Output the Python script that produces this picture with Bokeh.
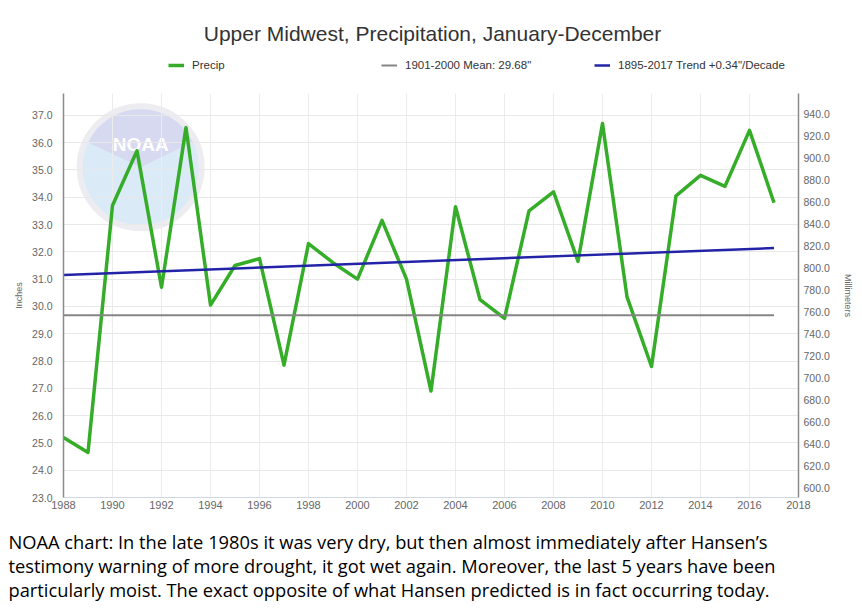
from bokeh.plotting import figure
from bokeh.layouts import column
from bokeh.models import Range1d, LinearAxis, Legend, LegendItem, Label, FixedTicker, NumeralTickFormatter
from bokeh.embed import file_html
from bokeh.resources import INLINE
from bokeh.core.properties import value

# ---------------- data ----------------
years = list(range(1988, 2018))
precip = [25.2, 24.65, 33.7, 35.7, 30.7, 36.55, 30.05, 31.5, 31.75, 27.85,
          32.3, 31.6, 31.0, 33.15, 31.0, 26.9, 33.65, 30.25, 29.56, 33.5,
          34.2, 31.65, 36.7, 30.35, 27.8, 34.05, 34.8, 34.4, 36.45, 33.8]
mean_years = [1988, 2017]
mean_values = [29.68, 29.68]
trend_years = [1988, 2017]
trend_values = [31.15, 32.14]

x_ticks = list(range(1988, 2019, 2))
inch_ticks = list(range(23, 38))
mm_ticks = list(range(600, 941, 20))

title_text = "Upper Midwest, Precipitation, January-December"
legend_labels = ["Precip", "1901-2000 Mean: 29.68\"", "1895-2017 Trend +0.34\"/Decade"]
caption_lines = [
    "NOAA chart: In the late 1980s it was very dry, but then almost immediately after Hansen\u2019s",
    "testimony warning of more drought, it got wet again. Moreover, the last 5 years have been",
    "particularly moist. The exact opposite of what Hansen predicted is in fact occurring today.",
]

LOGO_YEAR, LOGO_INCHES = 1991.15, 35.1

FONT = "Liberation Sans"
W = 862
TOP_H, MAIN_H, CAP_H = 93, 425, 93
PREC_STYLE = dict(line_color="#35ad29", line_width=3.5)
MEAN_STYLE = dict(line_color="#858585", line_width=2)
TREND_STYLE = dict(line_color="#2323a8", line_width=2.5)
NAN = float("nan")


def bare_figure(height):
    f = figure(width=W, height=height, x_range=Range1d(0, W), y_range=Range1d(0, height),
               output_backend="svg", toolbar_location=None, x_axis_type=None, y_axis_type=None,
               min_border=0, min_border_left=0, min_border_right=0,
               min_border_top=0, min_border_bottom=0, frame_align=False)
    f.outline_line_color = None
    f.grid.visible = False
    f.background_fill_color = "white"
    f.border_fill_color = "white"
    return f


# ---------------- header: title + legend ----------------
top = bare_figure(TOP_H)
top.add_layout(Label(x=432, y=TOP_H - 33, x_units="screen", y_units="screen", text=title_text,
                     text_align="center", text_baseline="middle", text_font=FONT,
                     text_font_size="21px", text_color="#333333"))
lg_prec = top.line(x=[NAN, NAN], y=[NAN, NAN], **PREC_STYLE)
lg_mean = top.line(x=[NAN, NAN], y=[NAN, NAN], **MEAN_STYLE)
lg_trend = top.line(x=[NAN, NAN], y=[NAN, NAN], **TREND_STYLE)
legend = Legend(items=[LegendItem(label=legend_labels[0], renderers=[lg_prec]),
                       LegendItem(label=legend_labels[1], renderers=[lg_mean]),
                       LegendItem(label=legend_labels[2], renderers=[lg_trend])],
                location=(168, TOP_H - 65 - 6), orientation="horizontal", padding=0, margin=0,
                spacing=9, label_width=180, glyph_width=16, glyph_height=12, label_height=12,
                label_standoff=8, border_line_color=None, background_fill_alpha=0,
                label_text_font=FONT, label_text_font_size="11.5px", label_text_color="#333333")
top.add_layout(legend)

# ---------------- main chart ----------------
p = figure(width=W, height=MAIN_H, x_range=Range1d(1988, 2018), y_range=Range1d(23, 37.8),
           output_backend="svg", toolbar_location=None, frame_align=False,
           min_border_left=63, min_border_right=64, min_border_top=0, min_border_bottom=21)
p.extra_y_ranges = {"mm": Range1d(591.8, 958.4)}
p.outline_line_color = None
p.background_fill_color = "white"
p.border_fill_color = "white"

# NOAA watermark
p.circle(x=[LOGO_YEAR], y=[LOGO_INCHES], radius=61, radius_units="screen",
         fill_color="#dbeaf7", line_color="#ededf1", line_width=6, level="underlay")
p.wedge(x=[LOGO_YEAR], y=[LOGO_INCHES], radius=58, radius_units="screen",
        start_angle=0.45, end_angle=2.7, fill_color="#d7d9f0", line_color=None, level="underlay")
p.text(x=[LOGO_YEAR], y=[LOGO_INCHES], text=["NOAA"], text_align="center", text_baseline="bottom",
       y_offset=-12, text_color="white", text_font=value(FONT), text_font_style="bold",
       text_font_size="19px", level="underlay")

# series
p.line(years, precip, line_join="round", **PREC_STYLE)
p.line(mean_years, mean_values, **MEAN_STYLE)
p.line(trend_years, trend_values, **TREND_STYLE)

# x axis
xa = p.xaxis[0]
xa.ticker = FixedTicker(ticks=x_ticks)
xa.major_label_text_font = FONT
xa.major_label_text_font_size = "11px"
xa.major_label_text_color = "#666666"
xa.axis_line_color = "#d0d8e6"
xa.major_tick_line_color = None
xa.minor_tick_line_color = None
xa.major_tick_out = 0
xa.major_tick_in = 0
xa.major_label_standoff = 3

# left axis
ya = p.yaxis[0]
ya.ticker = FixedTicker(ticks=inch_ticks)
ya.formatter = NumeralTickFormatter(format="0.0")
ya.major_label_text_font = FONT
ya.major_label_text_font_size = "10.5px"
ya.major_label_text_color = "#666666"
ya.axis_line_color = "#8a8a8a"
ya.axis_line_width = 1.5
ya.major_tick_line_color = None
ya.minor_tick_line_color = None
ya.major_tick_out = 0
ya.major_tick_in = 0
ya.major_label_standoff = 11
ya.axis_label = "Inches"
ya.axis_label_text_font = FONT
ya.axis_label_text_font_size = "9px"
ya.axis_label_text_font_style = "normal"
ya.axis_label_text_color = "#666666"
ya.axis_label_standoff = 5

# right axis
ra = LinearAxis(y_range_name="mm", ticker=FixedTicker(ticks=mm_ticks),
                formatter=NumeralTickFormatter(format="0.0"))
ra.major_label_text_font = FONT
ra.major_label_text_font_size = "10.5px"
ra.major_label_text_color = "#666666"
ra.axis_line_color = "#8a8a8a"
ra.axis_line_width = 1.5
ra.major_tick_line_color = None
ra.minor_tick_line_color = None
ra.major_tick_out = 0
ra.major_tick_in = 0
ra.major_label_standoff = 5
ra.axis_label = "Millimeters"
ra.axis_label_text_font = FONT
ra.axis_label_text_font_size = "9px"
ra.axis_label_text_font_style = "normal"
ra.axis_label_text_color = "#666666"
ra.axis_label_standoff = 10
p.add_layout(ra, "right")

# grid
p.xgrid.ticker = FixedTicker(ticks=x_ticks)
p.xgrid.grid_line_color = "#ececec"
p.ygrid.grid_line_color = "#e8e8e8"

# ---------------- caption ----------------
cap = bare_figure(CAP_H)
for i, line in enumerate(caption_lines):
    cap.add_layout(Label(x=8, y=CAP_H - 23 - 24 * i, x_units="screen", y_units="screen",
                         text=line, text_align="left", text_baseline="middle",
                         text_font="Open Sans", text_font_size="18.3px", text_color="#000000"))

layout = column(top, p, cap, spacing=0)
open("out.html", "w").write(file_html(layout, INLINE))
